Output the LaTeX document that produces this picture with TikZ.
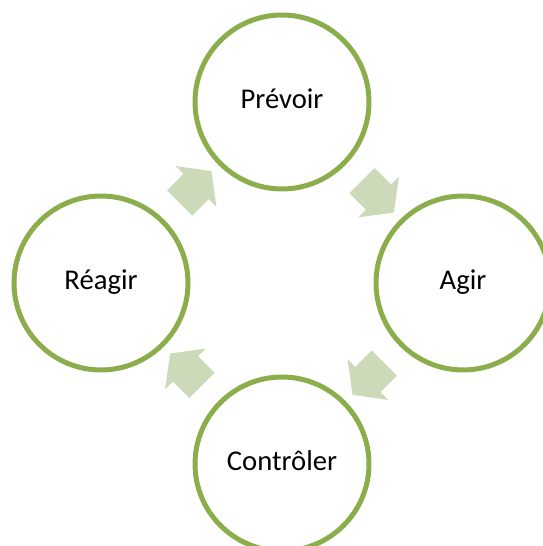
\documentclass[tikz,border=0pt]{standalone}
\usepackage{fontspec}
\setmainfont{Carlito}
\usepackage{tikz}
\usetikzlibrary{shapes.arrows}
\definecolor{cycleline}{RGB}{140,173,76}
\definecolor{cyclefill}{RGB}{205,218,185}

\begin{document}
\begin{tikzpicture}[x=0.02cm,y=0.02cm]
\tikzset{phase/.style={draw=cycleline,line width=0.1cm,circle,minimum size=3.48cm,inner sep=0pt,font=\fontsize{16.3}{19}\selectfont,text height=10.5pt,text depth=3.6pt}}
\tikzset{turn/.style={single arrow,fill=cyclefill,draw=none,inner xsep=0pt,inner ysep=0.35cm,minimum height=0.9cm,single arrow head extend=0.22cm,single arrow tip angle=106,single arrow head indent=0pt}}
\useasboundingbox (-282,-263) rectangle (260,283);

\node[phase] (prevoir) at (0,181) {Prévoir};
\node[phase] (agir) at (181,0) {Agir};
\node[phase] (controler) at (0,-181) {Contrôler};
\node[phase] (reagir) at (-181,0) {Réagir};

% fleches du cycle
\node[turn,rotate=45] (r2p) at (135:129) {};
\node[turn,rotate=-45] (p2a) at (45:129) {};
\node[turn,rotate=-135] (a2c) at (-45:129) {};
\node[turn,rotate=135] (c2r) at (-135:129) {};
\end{tikzpicture}
\end{document}
